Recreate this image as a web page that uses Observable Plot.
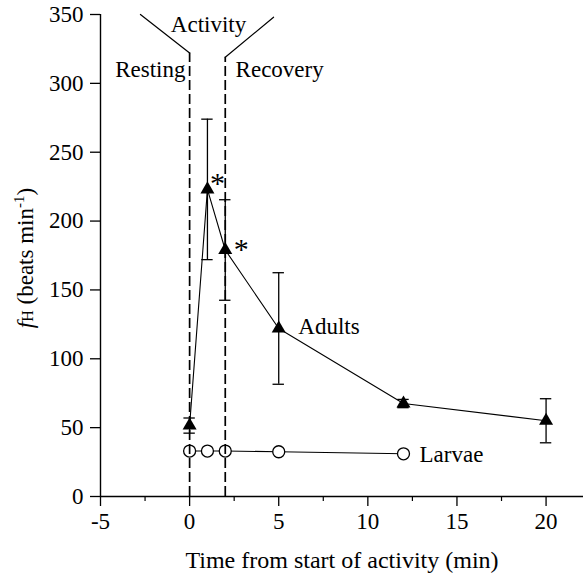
<!DOCTYPE html>
<html>
<head>
<meta charset="utf-8">
<script src="https://cdn.jsdelivr.net/npm/d3@7"></script>
<script src="https://cdn.jsdelivr.net/npm/@observablehq/plot@0.6"></script>
<style>
  body { margin: 0; background: #fff; }
  svg { display: block; }
</style>
</head>
<body>
<div id="chart"></div>
<script>
// ---- data ----
const timeMin     = [0, 1, 2, 5, 12, 20];
const adultsFH    = [51.5, 223, 179, 122, 67.5, 55];
const adultsSE    = [5.5, 51, 36.5, 40.5, 3, 16];
const significant = [false, true, true, false, false, false];
const larvaeTime  = [0, 1, 2, 5, 12];
const larvaeFH    = [33, 33, 33, 32.5, 31];
const xTicks      = [-5, 0, 5, 10, 15, 20];
const xMinorTicks = [-2.5, 2.5, 7.5, 12.5, 17.5];
const yTicks      = [0, 50, 100, 150, 200, 250, 300, 350];
const phaseBounds = [0, 2];          // start / end of activity (min)
const phaseTop    = [322, 319];      // where the bracket lines bend
const bracketLeftX  = [-2.76, 0];
const bracketLeftY  = [350, 322];
const bracketRightX = [2, 4.71];
const bracketRightY = [319, 348];
const phaseNames  = ["Resting", "Activity", "Recovery"];
const seriesNames = ["Adults", "Larvae"];
const xTitle = "Time from start of activity (min)";

// ---- tables ----
const adults = timeMin.map((x, i) => ({x, y: adultsFH[i], se: adultsSE[i], sig: significant[i]}));
const larvae = larvaeTime.map((x, i) => ({x, y: larvaeFH[i]}));
const phases = phaseBounds.map((x, i) => ({x, top: phaseTop[i]}));
const bracketL = bracketLeftX.map((x, i) => ({x, y: bracketLeftY[i]}));
const bracketR = bracketRightX.map((x, i) => ({x, y: bracketRightY[i]}));
const sigPts = adults.filter(d => d.sig);

const FONT = "'Liberation Serif', 'Times New Roman', serif";
const capW = 0.32;

const chart = Plot.plot({
  width: 583,
  height: 573,
  marginLeft: 100,
  marginRight: 0,
  marginTop: 14,
  marginBottom: 77,
  style: {fontFamily: FONT, fontSize: "23px", background: "white", color: "black", overflow: "visible"},
  x: {domain: [-5, 22.1]},
  y: {domain: [0, 350]},
  marks: [
    Plot.axisY({ticks: yTicks, tickSize: 10, tickPadding: 7, label: null, fontSize: 23, strokeWidth: 1.3}),
    Plot.axisX({ticks: xTicks, tickSize: 10, tickPadding: 6, label: null, tickFormat: d => String(d), fontSize: 23, strokeWidth: 1.3}),
    Plot.axisX({ticks: xMinorTicks, tickSize: 5, text: null, label: null, strokeWidth: 1.2}),
    Plot.ruleY([0], {stroke: "black", strokeWidth: 1.4}),
    Plot.ruleX([-5], {stroke: "black", strokeWidth: 1.4}),
    Plot.text([xTitle], {frameAnchor: "bottom", dy: 64, lineAnchor: "middle", text: d => d, fontSize: 24}),

    // Adults: error bars
    Plot.ruleX(adults, {x: "x", y1: d => d.y - d.se, y2: d => d.y + d.se, stroke: "black", strokeWidth: 1.3}),
    Plot.ruleY(adults, {y: d => d.y + d.se, x1: d => d.x - capW, x2: d => d.x + capW, stroke: "black", strokeWidth: 1.3}),
    Plot.ruleY(adults, {y: d => d.y - d.se, x1: d => d.x - capW, x2: d => d.x + capW, stroke: "black", strokeWidth: 1.3}),
    Plot.line(adults, {x: "x", y: "y", stroke: "black", strokeWidth: 1.1}),
    Plot.dot(adults, {x: "x", y: "y", symbol: "triangle", fill: "black", r: 5.2}),

    // Larvae
    Plot.line(larvae, {x: "x", y: "y", stroke: "black", strokeWidth: 1.1}),
    Plot.dot(larvae, {x: "x", y: "y", r: 6, fill: "white", stroke: "black", strokeWidth: 1.3}),

    // Activity phase boundaries
    Plot.ruleX(phases, {x: "x", y1: 0, y2: "top", stroke: "black", strokeWidth: 1.7, strokeDasharray: "10,4"}),
    Plot.line(bracketL, {x: "x", y: "y", stroke: "black", strokeWidth: 1.2}),
    Plot.line(bracketR, {x: "x", y: "y", stroke: "black", strokeWidth: 1.2}),

    // Phase labels
    Plot.text([phaseNames[0]], {x: -0.23, y: 310, text: d => d, textAnchor: "end", fontSize: 23}),
    Plot.text([phaseNames[1]], {x: 1.06, y: 343, text: d => d, textAnchor: "middle", fontSize: 23}),
    Plot.text([phaseNames[2]], {x: 2.58, y: 310, text: d => d, textAnchor: "start", fontSize: 23}),

    // Series labels
    Plot.text([seriesNames[0]], {x: 6.1, y: 123, text: d => d, textAnchor: "start", fontSize: 23}),
    Plot.text([seriesNames[1]], {x: 12.9, y: 30.5, text: d => d, textAnchor: "start", fontSize: 23}),

    // Significance asterisks
    Plot.text([sigPts[0]], {x: "x", y: "y", text: () => "*", dx: 10, dy: -6, fontSize: 30}),
    Plot.text([sigPts[1]], {x: "x", y: "y", text: () => "*", dx: 16, dy: -1, fontSize: 30})
  ]
});

document.getElementById("chart").appendChild(chart);

// y-axis title with italic f, small H and superscript -1
const yt = d3.select(chart).append("text")
  .attr("transform", "translate(33,258) rotate(-90)")
  .attr("text-anchor", "middle")
  .attr("font-family", FONT)
  .attr("font-size", 23)
  .attr("fill", "black");
yt.append("tspan").attr("font-style", "italic").text("f");
yt.append("tspan").attr("font-size", 16).text("H");
yt.append("tspan").text(" (beats min");
yt.append("tspan").attr("font-size", 15).attr("dy", -9).text("-1");
yt.append("tspan").attr("dy", 9).text(")");
</script>
</body>
</html>
